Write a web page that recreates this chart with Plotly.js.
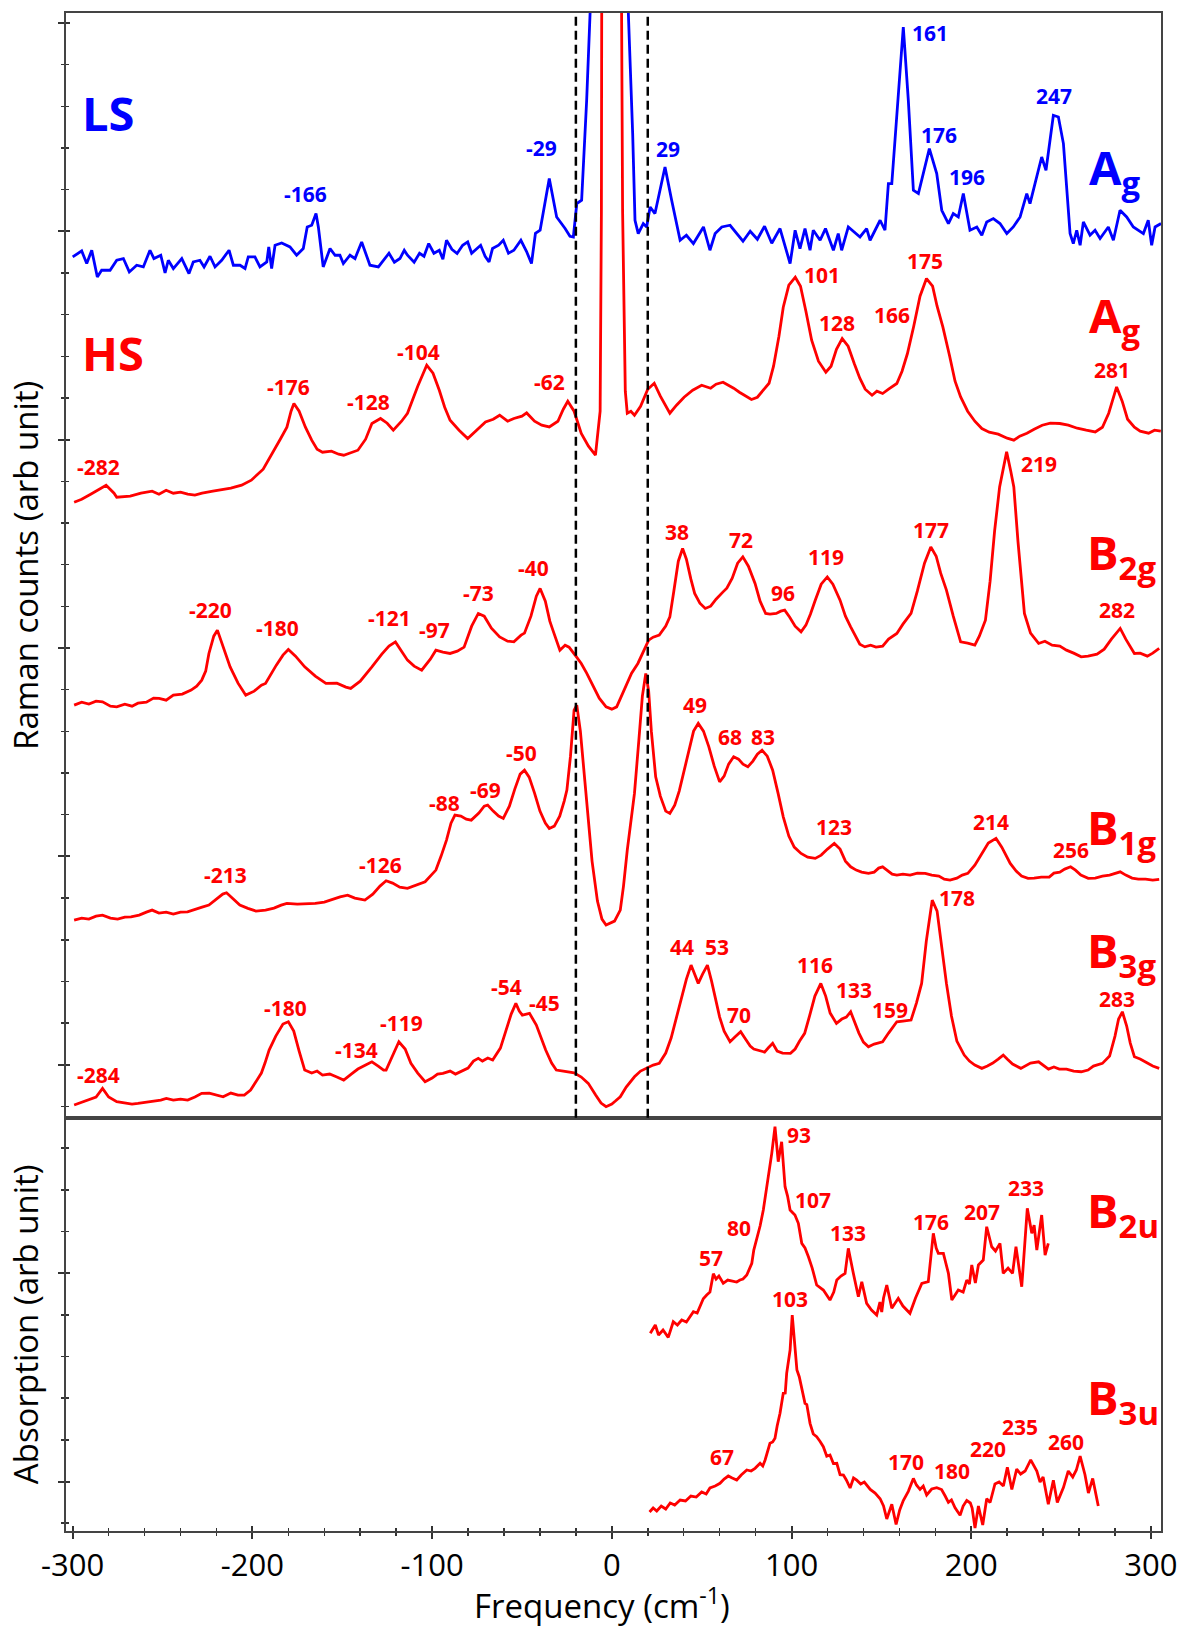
<!DOCTYPE html>
<html><head><meta charset="utf-8">
<script src="https://cdn.plot.ly/plotly-3.0.1.min.js"></script>
<style>html,body{margin:0;padding:0;background:#fff}#chart{width:1183px;height:1629px}</style>
</head><body><div id="chart"></div>
<script>
// ---- x tick labels ----
const freqTicks = [-300, -200, -100, 0, 100, 200, 300];
const freqTickText = ['-300', '-200', '-100', '0', '100', '200', '300'];

// ---- Raman spectra (frequency cm-1, counts in arb. units incl. vertical offset) ----
const ramanLS_Ag = [[-300,854.3],[-295,860.3],[-292.2,847.7],[-289.4,861],[-286.3,834.3],[-283.9,841],[-279.2,841],[-275.5,851],[-271.8,852.7],[-268.5,839.3],[-264.4,846],[-260.7,844.3],[-257,861],[-254.8,852.7],[-251,856],[-248.6,838.3],[-246.8,851],[-244,842.7],[-239.3,852.7],[-235.3,837.7],[-232.9,849.3],[-229.2,851],[-226.9,844.3],[-223.6,855],[-220.8,844.3],[-217.1,851],[-213,861],[-210.6,846],[-206.9,846],[-204.1,842.7],[-202.3,854.3],[-198.6,854.3],[-195.8,844.3],[-192,849.3],[-190.9,864.3],[-189.3,842.7],[-187.4,866],[-183.7,868.3],[-179.1,864.3],[-175.4,856],[-171.7,862.7],[-169.5,884.3],[-167,886],[-164.6,897.7],[-163.3,884.3],[-160.6,844.3],[-156.8,862.7],[-154,856],[-151.3,856],[-149.4,847.7],[-145.7,856],[-142.9,852.7],[-139.2,869.3],[-134.6,846],[-129.9,844.3],[-127.2,851],[-124,858],[-121,849],[-117.9,852.7],[-115.5,861],[-113.7,856],[-110,849],[-107,858],[-104.5,855],[-101.9,867.7],[-99,858],[-96,861],[-94,852],[-92,871],[-89,862],[-86.1,857.7],[-83,866],[-80.2,869.3],[-78,858],[-76.2,861],[-73,866],[-70.5,855],[-68.3,849.3],[-66.4,862.7],[-63,866],[-60.4,871],[-57.5,858],[-54.5,861],[-52.5,866],[-50.6,871],[-47.5,860],[-44.7,847.7],[-42.5,878],[-39.9,881],[-34.8,932.7],[-30.7,894.3],[-26,882.7],[-23.3,875],[-21.4,874.3],[-19.5,907.7],[-16.8,911],[-14,1011],[-12.1,1098],[-11,1250],[8.5,1250],[9.2,1098],[11.6,977.7],[12.9,891],[14.7,877.7],[17.5,887.7],[19.4,884.3],[21.3,904.3],[24,897.7],[29.6,944.3],[33.3,911],[35.5,893],[38,871],[41.5,876],[45.4,867.7],[51,884.3],[54.6,861],[57.5,877.7],[61.2,884.3],[65.8,886],[69.5,877.7],[73,870],[77,880],[81,872],[85,885],[89,868],[93.6,882.7],[99.2,847.7],[102,881],[104.7,862.7],[107.5,882.7],[110.3,861],[112.1,881],[115.9,871],[118.9,882.7],[123.3,861],[126,877.7],[127.9,861],[131.6,884.3],[138.1,874.3],[141.8,882.7],[143.7,871],[149.3,891],[152,881],[153.9,927.7],[155.8,927.7],[162.2,1084.3],[165,1011],[167.8,921],[170.6,917.7],[176.7,962.7],[180.8,937.7],[183.6,901],[187.3,887.7],[190,897.7],[192.8,894.3],[195.6,917.7],[199.3,881],[203.1,884.3],[205.9,876],[208.6,889.3],[212.3,892.7],[216,887.7],[219.8,877.7],[223.4,884.3],[227.2,894.3],[230.9,917.7],[232.7,907.7],[239.2,954.3],[241.6,941],[245.7,996],[248.5,994.3],[251.3,967.7],[255,877.7],[256.8,867.7],[258.7,881],[260.6,866],[262.4,889.3],[266.1,876],[268.9,881],[271.7,872.7],[276.3,884.3],[279.1,871],[282.8,901],[286.5,894.3],[290.2,884.3],[295.8,877.7],[298.5,891],[300.4,866],[302.3,884.3],[305.6,887.7]];

const ramanHS_Ag = [[-299.2,609],[-295,612],[-290,617],[-285,622],[-281.4,626],[-277,618],[-275.5,614],[-268,615],[-262,618],[-255.8,620],[-252,617],[-248,621],[-244,618],[-240,619],[-236,617],[-232,616],[-228,618],[-222,620],[-216,622],[-212,623],[-206,626],[-200.6,631],[-194,642],[-188.7,658],[-184.5,672],[-180.8,684],[-178.5,700],[-176.9,707.7],[-174,700],[-170.5,684],[-167,671],[-164,662],[-161,659],[-156,660],[-152,657],[-149.2,656],[-145,659],[-141.3,661],[-137,672],[-133.5,687.7],[-128.7,692.7],[-125,688],[-121.6,681],[-117,690],[-113.7,698],[-108,725],[-103,746],[-99.5,738],[-96,721],[-93,704],[-90,691],[-85,681],[-80.2,672.7],[-76,680],[-70.3,689.3],[-66,692],[-62.4,696],[-58,690],[-54.5,692.7],[-50,695],[-47.4,698.3],[-43,690],[-39,686],[-34.8,684.3],[-30,690],[-27,702],[-24.5,710],[-21,700],[-17,677.7],[-13,665],[-9.1,656],[-6.5,700],[-5.8,900],[-5.5,1250],[5,1250],[6,900],[7.5,720],[8.6,698],[10.6,700],[12.6,696],[16,705],[20,722],[23.6,728],[27,715],[32.3,698],[36,706],[40.2,714],[45,721],[50,726],[55,723],[58,727],[61.9,729],[65,726],[67.8,723],[71,719],[74,716],[77.7,711.7],[81,714],[84,720],[87.5,728],[90,745],[93,775],[95.4,804],[98.5,826],[102.1,834],[105,825],[108,800],[111.2,771],[115,750],[119.1,739],[122,745],[125,762],[128.2,772.7],[131.5,765],[134.9,747.7],[138,733],[141,722],[144.8,716],[147.5,720],[150.7,717.7],[154,722],[158.6,727.7],[161.5,740],[164.5,757.7],[168,785],[171.5,815],[175.1,832.7],[178.5,825],[181,805],[184.2,784.3],[188,755],[191,730],[194.1,714.3],[198,700],[202,690],[205.9,682.7],[210,679],[215,677],[220,673],[223.7,671],[227,675],[231,678],[235,682],[239.5,686],[244,688],[249.3,687.7],[254,686],[259,683],[264,681],[269,679.3],[273,684],[276.5,698],[280.9,724.3],[284,710],[287,692],[290.8,684],[294,680],[298.7,678],[302,681],[305.5,680]];

const ramanHS_B2g = [[-299.2,406],[-295,409],[-291,407],[-287,410],[-283.4,409.3],[-279,405],[-275.5,404.3],[-271,407],[-267,405],[-263.7,408],[-259,409],[-255,413],[-251.9,412.7],[-248,411],[-244,416],[-239,417],[-234.1,421],[-231,425],[-228.2,431],[-226,440],[-224.2,457.7],[-221.5,475],[-219.5,481],[-217,468],[-214.5,455],[-212.4,444.3],[-208,428],[-203.7,416],[-199,420],[-195,426],[-192.7,427.7],[-189.5,438],[-186.7,446],[-183,456],[-180,461.7],[-176,455],[-170.9,444.3],[-165,435],[-159.1,427.7],[-153,428],[-148,424],[-145.3,422.7],[-140,430],[-133.5,444.3],[-128,457],[-124,465],[-120.4,469.3],[-117,460],[-113.7,451],[-110,445],[-105.8,441],[-101,452],[-97.9,461],[-94,459],[-90,457.7],[-86,460],[-82.2,464],[-78,485],[-74.3,497.7],[-71,495],[-67,483],[-62.4,474.3],[-58,470],[-54.5,469.3],[-50.5,476],[-48.6,478],[-45,495],[-42,515],[-39.9,522.7],[-37,510],[-34.5,490],[-32.8,481],[-28.9,461],[-26,466],[-23.8,464],[-20,455],[-17,447.7],[-14,438],[-11.1,427.7],[-7,413],[-3.2,404.3],[0,402],[2.7,404.3],[5,414],[8.6,427.7],[11,438],[14.5,447.7],[17,458],[20.5,471],[23,474],[26.4,476],[30,485],[32.3,494.3],[34.5,520],[37,550],[39.4,562.7],[41.5,552],[44,532],[46.1,517.7],[49,508],[52,502.7],[55,505],[58,512],[61.9,519.3],[64,523],[67,533],[70,548],[72.9,554.3],[76,545],[79.7,527.7],[82.5,510],[85.6,497.7],[88,497],[91.5,497.7],[94,500],[96.2,501],[99,494],[102,485],[105.3,479.3],[108,486],[110.5,497],[113.2,511],[116.5,527],[119.9,534.3],[123,527],[127,511],[130,495],[132.9,484.3],[136,474],[138,467],[140.8,464.3],[144,466],[147,464],[150.7,465],[154,472],[158.6,477.7],[162,487],[166.5,497.7],[170,520],[174,548],[177.5,564.3],[180.5,555],[183,538],[186.2,521],[190,495],[194.1,469.3],[198,468],[202,466],[204.5,475],[207.9,491],[210.5,530],[213,580],[215.8,624.3],[219.7,659.3],[222,640],[223.7,624.3],[226,570],[229.6,497.7],[233,478],[237.5,467.7],[241,470],[245,466],[249.3,465],[253,461],[257,458],[261.2,454.3],[265,455],[270,457],[274,462],[278,472],[282.9,482.7],[286,472],[290.8,457.7],[294,458],[298,455],[301,458],[304.6,462.7]];

const ramanHS_B1g = [[-299.2,191],[-295,193],[-291,192],[-287,195],[-283.4,196],[-279,193],[-275,192],[-271,194],[-267.6,194.3],[-263,196],[-259,199],[-255.8,201],[-252,198],[-248,199],[-244,197],[-240,199],[-236.1,199.3],[-232,202],[-228,204],[-224.2,206],[-220,212],[-216.5,217],[-214.4,218.3],[-211,213],[-207,206],[-202.5,202.7],[-198,200],[-192.7,201],[-188,203],[-184,206],[-180.8,207.7],[-175,207],[-170,207],[-165,207.7],[-160,209],[-155,212],[-151.2,214.3],[-147,216],[-143,213],[-137.4,211],[-133,217],[-129,225],[-125.6,230.3],[-122,228],[-118,224],[-113.7,222.7],[-110,225],[-106,228],[-103.9,229.3],[-100.5,236],[-97.9,241],[-95,255],[-92,271],[-89.5,288],[-87.3,296],[-84,295],[-81,292],[-78.2,291],[-74,298],[-71,305],[-69.1,306],[-66,300],[-63,295],[-60.4,292.7],[-57,305],[-54,322],[-51,337],[-48.6,341],[-46,334],[-43,318],[-40,300],[-37,288],[-34.8,282.7],[-32,285],[-29,295],[-26.5,310],[-25,321],[-23,355],[-21,401],[-19.5,406],[-17.5,380],[-15,330],[-13.1,290],[-11,250],[-8,210],[-5.5,192],[-3.2,186],[-1,188],[1.5,190],[4.7,201],[6.5,225],[8.6,261],[10.5,290],[12.6,317.7],[15,370],[17,415],[18.9,437.7],[20.5,420],[22,380],[24.4,334.3],[27,315],[30,300],[32.3,297.7],[35,306],[37.5,320],[40.2,341],[43,362],[45.5,380],[48.1,387.7],[51,380],[54,364.3],[57,345],[60,329.3],[62.5,335],[65,347],[67.8,354.3],[70.5,352],[73,347],[75.7,344.3],[78.5,350],[81,357],[83.6,361],[86.5,355],[89.5,341],[92.5,318],[95.4,294.3],[98.5,275],[101.5,264],[105.3,257.7],[109,254],[113.2,252.7],[116.5,256],[120,262],[123.8,267.7],[127,262],[130,250],[132.9,244.3],[136,241],[139,239],[142.8,237.7],[146,239],[148.5,243],[150.7,244.3],[153,241],[156,237],[158.6,236],[162,237],[166,236],[170,238],[174.4,237.7],[178,236],[182,235],[185,232],[188.2,231],[192,233],[195,236],[198.1,237.7],[202,246],[205.9,257.7],[209.5,268],[213.8,272.7],[217,264],[221.7,247.7],[225,240],[228,235],[231.6,232.7],[235,233],[239,234],[243.4,234],[246,238],[249.3,239],[252,242],[255.3,244.3],[258,241],[261,236],[265.1,232.7],[269,233],[273,235],[277,236],[280,238],[282.9,239.3],[286,236],[289.5,233],[293,232],[297,232],[301,231],[304.6,231.7]];

const ramanHS_B3g = [[-299.2,6],[-295,9],[-291.3,11],[-287,14],[-283.4,22.7],[-280,14],[-275.5,9.3],[-271,8],[-267,7],[-263.7,7.7],[-259,9],[-255,10],[-251,11],[-247.9,12.7],[-244,11],[-240,12],[-236,11],[-232,14],[-228.2,17.7],[-224,18],[-220,16],[-216.3,14.3],[-212,18],[-208,16],[-204.5,16],[-201,21],[-198.6,27.7],[-195,38],[-193,48],[-190.7,61],[-187,75],[-183,87],[-180,89.3],[-177,80],[-174,60],[-170.9,41],[-167,38],[-164,40],[-161,36],[-157,37],[-153,34],[-149.2,31],[-145,37],[-141.3,42],[-137,46],[-133.5,49.3],[-130,45],[-127,41],[-125.6,41],[-122,55],[-118.5,69.3],[-115,62],[-111.8,47.7],[-108,38],[-103.9,29.3],[-100,33],[-97,37],[-94,37.7],[-90,40],[-87,37],[-84.1,39.3],[-80,43],[-77,50],[-74.3,52.7],[-72,50],[-69,53],[-66.3,51],[-62,63],[-59,80],[-56,97],[-53.4,107.7],[-51.5,100],[-49.8,96],[-45.8,97.7],[-42,86],[-39,72],[-36.8,61],[-33.5,48],[-30.9,41],[-27,40],[-24,39],[-21,38.3],[-17,34],[-13.1,27.7],[-9,16],[-6,8],[-3.2,4.3],[0,7],[2,10],[4.7,14.3],[8,24],[12.6,34.3],[16,40],[20.5,44.3],[23,46],[26.4,47.7],[30,58],[33,73],[36.2,94.3],[39,115],[41.5,132],[44.1,146],[46,138],[48.1,127.7],[50.5,137],[53.2,146],[55.5,130],[57.9,111],[60,94],[62.5,80],[65.8,69.3],[68.5,74],[71.7,79.3],[74,73],[77,65],[79,62],[81.6,61],[85,59],[87,63],[89.5,67.7],[92,60],[95,58],[99.4,57.7],[102,62],[104.5,70],[107.3,77.7],[110,95],[113,115],[116.3,127.7],[119,115],[121.5,98],[125,87.7],[128,92],[130.5,94],[132.9,99.3],[135,90],[137.5,78],[140,69],[142.8,64.3],[146,67],[150.7,69.3],[154,78],[158.6,89.3],[162,90],[166.5,91],[169.5,108],[172.4,127.7],[175,170],[178.3,211],[181,200],[183.5,165],[186.2,127.7],[189,95],[192,70],[196.1,56],[199,50],[202,46],[205.9,42.7],[209,45],[212,48],[215,52],[217.8,56],[220,52],[223,47],[227.6,42.7],[230,45],[233,48],[237.5,49.3],[240,46],[243,42],[246,44],[249,42],[253,42],[257,40],[261.2,39.3],[265,41],[268,45],[273,47.7],[277,55],[280,75],[282,92],[284.1,99.3],[286.5,85],[288.5,68],[290.8,54.3],[294,52],[298,48],[301,45],[304.6,42.7]];

// ---- absorption spectra ----
const absB2u = [[21.4,154.7],[24.2,163],[26,153],[28.5,158],[31.4,150.7],[34.2,166.3],[36.5,163],[38.9,168],[41.5,166],[43.5,172],[45.4,176.3],[47.5,175],[49.1,181],[50.9,189.3],[52.8,193],[54.6,196],[56.5,214.3],[58,209],[59.6,212],[62,204.7],[64.5,208],[67,207],[69.5,206],[71.3,208],[73,209],[75.1,213],[77.9,224.7],[79,238],[80.6,248],[82.5,262],[84.3,278],[86,298],[87.1,314.7],[89,334.7],[90.8,361.3],[92.6,326.3],[94.5,346.3],[96.4,301.3],[97.8,292],[99.2,278],[101.9,273],[103.8,264.7],[105.7,244.7],[107.5,240],[109.4,231.3],[111.5,220],[114,203],[117.7,198],[121.4,188],[123.5,196],[125.2,208],[127.5,212],[129.8,214.7],[131.6,239.7],[134.4,214.7],[137.2,191.3],[139.1,206.3],[141.8,184.7],[144.5,178],[147.4,173],[149.2,186],[150.2,176],[151.2,190],[153,203],[155.8,179.7],[157.5,185],[159.4,189.7],[162,182],[165.9,174.7],[169,190],[172.5,204.7],[176.1,206.3],[178.9,254.7],[180.5,240],[181.7,234.7],[184.5,234.7],[187.3,214.7],[189.2,188],[192.8,198],[195.5,196],[197.5,208],[199,204],[200.3,223],[202.3,205],[204,223],[206.7,228],[208.6,261.3],[211.4,241.3],[213.5,237],[216,244.7],[217.8,214.7],[220.5,220],[223,214.7],[224.9,241.3],[228.1,201.3],[231.2,279.7],[233.7,254.7],[235,263],[236.5,238],[239.2,273],[241.1,233],[242.9,244.7]];

const absB3u = [[21,-24],[23,-20],[25,-23],[27.5,-18],[30,-21],[32.5,-15],[35,-17],[38,-12],[41,-13],[44,-8],[47,-9],[50,-4],[52.5,-6],[54.6,0],[57.5,2],[60.2,4.7],[62.5,9],[64.8,12],[67,10],[69.5,8],[72,13],[75.1,18],[77.5,17],[79.7,19.7],[82.5,24.7],[84,22],[85.3,28],[87,38],[88,44.7],[89.5,46],[90.8,49.7],[92,62],[93.6,74.7],[95.4,94.7],[96.5,95],[97.3,114.7],[99.2,138],[100.4,173],[101.9,138],[103,118],[104.3,111.3],[106,96],[107.5,84.7],[108.5,83.5],[110.3,64.7],[112.1,54],[114,51.3],[115.9,46.6],[117.7,41.3],[119.6,31.8],[121.4,33],[123.3,24.4],[125.2,24.7],[127,13.3],[128.9,13],[130.5,8],[132.6,0],[134.5,10],[136.3,7.8],[138.5,4],[140.5,6],[143.8,-1.4],[146.5,-5],[149.3,-10.7],[151.2,-18],[153,-31],[155.8,-16.2],[158.2,-36.5],[160.2,-22],[162.2,-12.5],[165,-3.3],[167.8,9.6],[169.5,3],[171.5,-1.4],[173.3,2],[175.2,-7],[178,-1],[180.8,0.4],[183.5,-1.5],[185.5,-8],[187.3,-14.4],[189,-12],[191,-19.9],[193.8,-27.3],[195.5,-18],[197.5,-12.5],[199.5,-15],[200.5,-20],[202.1,-40],[204,-18],[206.4,-37],[208.6,-10.7],[210.5,-14.5],[213.2,4],[215.5,6],[217.9,2],[220.1,20.7],[222.6,-1.4],[225.3,18.9],[227.5,14],[230,17],[233.1,28.1],[236.5,17],[238.3,5.9],[240,11],[242.9,-16.2],[245.7,7.8],[247.9,-14.4],[251.3,0.4],[254,17],[256.5,11],[258.5,18],[260.6,31.8],[263.3,13.3],[265.2,-5.1],[267.6,9.6],[270.7,-18]];

// ---- peak label texts ----
const lsPeakText = ['-29', '29', '-166', '161', '176', '196', '247'];
const hsPeakText = ['101','175','128','166','281','-104','-176','-128','-62','-282','219','38','72','177','119','96','-40','-73','-220','-180','-121','-97','282','49','68','83','-50','-69','-88','123','214','256','-126','-213','178','44','53','116','133','-54','-45','-180','-119','159','70','283','-134','-284'];
const absPeakText = ['93','107','80','133','176','207','233','57','103','67','170','180','220','235','260'];

// ---- label placement (layout only) ----
const lsPeakPos = [[-39,963],[31.4,962.7],[-170.2,917.7],[177.1,1078.7],[182.3,976],[197.5,934.3],[246.1,1015]];
const hsPeakPos = [[116.8,836],[174.3,850],[125.2,788.3],[155.8,796],[278.2,741],[-107.8,759.3],[-180,724.3],[-135.4,709.3],[-34.7,729.3],[-285.4,644.3],[237.6,647.7],[36.3,579.3],[71.8,571],[177.6,581],[119.2,554.3],[95.5,517.7],[-43.4,542.7],[-74.2,517.7],[-223.4,501],[-185.9,482.7],[-123.5,492.7],[-98.7,481],[281,501],[46.2,406],[65.9,374.3],[84.4,374.3],[-50.5,357.7],[-70.3,321],[-93.2,307.7],[123.9,284.3],[211.1,289.3],[255.3,261],[-128.7,246],[-215.1,236],[192.2,212.7],[39.1,164.3],[58.8,164.3],[113.2,146],[135,121],[-58.4,124.3],[-37.5,107.7],[-181.6,102.7],[-116.9,87.7],[154.7,101],[71,96],[281,111.7],[-142.1,61],[-285.4,36]];
const absPeakPos = [[104.3,353],[112.1,288],[70.9,259.7],[131.6,255.3],[177.6,266.3],[205.8,276.3],[230.5,299.7],[55,229.7],[99.2,188.7],[61.2,31.3],[163.7,26.3],[189.1,17.3],[209.5,38.7],[227.2,61.3],[252.8,46.3]];

const BLUE = '#0000ff', RED = '#ff0000';
const FONT = 'Open Sans, Noto Sans, sans-serif';

function tr(pairs, color, xa, ya) {
  return {x: pairs.map(p => p[0]), y: pairs.map(p => p[1]), type: 'scatter', mode: 'lines',
    line: {color: color, width: 2.8}, xaxis: xa, yaxis: ya, showlegend: false, hoverinfo: 'skip'};
}
const data = [
  tr(ramanLS_Ag, BLUE, 'x2', 'y'),
  tr(ramanHS_Ag, RED, 'x2', 'y'),
  tr(ramanHS_B2g, RED, 'x2', 'y'),
  tr(ramanHS_B1g, RED, 'x2', 'y'),
  tr(ramanHS_B3g, RED, 'x2', 'y'),
  tr(absB2u, RED, 'x', 'y2'),
  tr(absB3u, RED, 'x', 'y2'),
  // empty traces so the inner-tick overlay axes are drawn
  {x: [], y: [], type: 'scatter', xaxis: 'x3', yaxis: 'y2', showlegend: false},
  {x: [], y: [], type: 'scatter', xaxis: 'x2', yaxis: 'y3', showlegend: false},
  {x: [], y: [], type: 'scatter', xaxis: 'x', yaxis: 'y4', showlegend: false}
];

const annotations = [];
function lab(text, pos, color, yref, size) {
  annotations.push({text: text, x: pos[0], y: pos[1], xref: 'x', yref: yref, showarrow: false,
    xanchor: 'center', yanchor: 'middle', font: {family: FONT, size: size || 21, color: color, weight: 700}});
}
lsPeakText.forEach((t, i) => lab(t, lsPeakPos[i], BLUE, 'y'));
hsPeakText.forEach((t, i) => lab(t, hsPeakPos[i], RED, 'y'));
absPeakText.forEach((t, i) => lab(t, absPeakPos[i], RED, 'y2'));

function big(text, x, y, color, yref) {
  annotations.push({text: text, x: x, y: y, xref: 'x', yref: yref, showarrow: false,
    xanchor: 'left', yanchor: 'middle', font: {family: FONT, size: 47, color: color, weight: 700}});
}
big('LS', -296, 998, BLUE, 'y');
big('HS', -296, 758, RED, 'y');
big('A<sub>g</sub>', 264.3, 941, BLUE, 'y');
big('A<sub>g</sub>', 264.3, 793, RED, 'y');
big('B<sub>2g</sub>', 263.2, 556, RED, 'y');
big('B<sub>1g</sub>', 263.2, 281, RED, 'y');
big('B<sub>3g</sub>', 263.2, 158, RED, 'y');
big('B<sub>2u</sub>', 263.3, 275, RED, 'y2');
big('B<sub>3u</sub>', 263.3, 88, RED, 'y2');

// x-axis title, placed as text under the axis
annotations.push({text: 'Frequency (cm<sup>-1</sup>)', xref: 'paper', yref: 'paper', x: 0.4895, y: -0.048,
  xanchor: 'center', yanchor: 'middle', showarrow: false, font: {family: FONT, size: 33, color: '#000'}});

const XR = [-303.73, 305.6];
const YTOP = [-6.6, 1098.3], YBOT = [-43, 370.4];
const axLine = {showline: true, linecolor: '#444', linewidth: 2, showgrid: false, zeroline: false};
const layout = {
  width: 1183, height: 1629,
  margin: {l: 66, r: 22, t: 13, b: 98},
  paper_bgcolor: '#fff', plot_bgcolor: '#fff',
  font: {family: FONT, color: '#000'},
  showlegend: false,
  xaxis: Object.assign({}, axLine, {
    domain: [0, 1], anchor: 'y2', range: XR, mirror: true,
    tickmode: 'array', tickvals: freqTicks, ticktext: freqTickText,
    ticks: 'outside', ticklen: 6, tickwidth: 2, tickcolor: '#333',
    minor: {tickmode: 'linear', tick0: 0, dtick: 20, ticks: 'outside', ticklen: 3, tickwidth: 1.5, tickcolor: '#333'},
    tickfont: {family: FONT, size: 31, color: '#000'},
    automargin: false
  }),
  xaxis2: Object.assign({}, axLine, {
    domain: [0, 1], anchor: 'y', matches: 'x', range: XR, mirror: true,
    ticks: '', showticklabels: false
  }),
  xaxis3: {overlaying: 'x', anchor: 'y2', range: XR, showline: false, showgrid: false, zeroline: false,
    showticklabels: false, tickmode: 'array', tickvals: freqTicks,
    ticks: 'inside', ticklen: 5, tickwidth: 2, tickcolor: '#333',
    minor: {tickmode: 'linear', tick0: 0, dtick: 20, ticks: 'inside', ticklen: 3, tickwidth: 1.5, tickcolor: '#333'}},
  yaxis: Object.assign({}, axLine, {
    domain: [0.2723, 1], anchor: 'x2', range: YTOP, mirror: true,
    tickmode: 'linear', tick0: 46.3, dtick: 208.4, showticklabels: false,
    ticks: 'outside', ticklen: 6, tickwidth: 2, tickcolor: '#333',
    minor: {tickmode: 'linear', tick0: 46.3, dtick: 41.68, ticks: 'outside', ticklen: 3, tickwidth: 1.5, tickcolor: '#333'},
    title: {text: 'Raman counts (arb unit)', font: {family: FONT, size: 33, color: '#000'}, standoff: 9},
    automargin: false
  }),
  yaxis3: {overlaying: 'y', anchor: 'x2', range: YTOP, showline: false, showgrid: false, zeroline: false,
    showticklabels: false, tickmode: 'linear', tick0: 46.3, dtick: 208.4,
    ticks: 'inside', ticklen: 4, tickwidth: 2, tickcolor: '#333',
    minor: {tickmode: 'linear', tick0: 46.3, dtick: 41.68, ticks: 'inside', ticklen: 3, tickwidth: 1.5, tickcolor: '#333'}},
  yaxis2: Object.assign({}, axLine, {
    domain: [0, 0.2723], anchor: 'x', range: YBOT, mirror: true,
    tickmode: 'linear', tick0: 6.5, dtick: 208.4, showticklabels: false,
    ticks: 'outside', ticklen: 6, tickwidth: 2, tickcolor: '#333',
    minor: {tickmode: 'linear', tick0: 6.5, dtick: 41.68, ticks: 'outside', ticklen: 3, tickwidth: 1.5, tickcolor: '#333'},
    title: {text: 'Absorption (arb unit)', font: {family: FONT, size: 33, color: '#000'}, standoff: 9},
    automargin: false
  }),
  yaxis4: {overlaying: 'y2', anchor: 'x', range: YBOT, showline: false, showgrid: false, zeroline: false,
    showticklabels: false, tickmode: 'linear', tick0: 6.5, dtick: 208.4,
    ticks: 'inside', ticklen: 4, tickwidth: 2, tickcolor: '#333',
    minor: {tickmode: 'linear', tick0: 6.5, dtick: 41.68, ticks: 'inside', ticklen: 3, tickwidth: 1.5, tickcolor: '#333'}},
  shapes: [-20, 20].map(v => ({type: 'line', xref: 'x2', yref: 'y domain', x0: v, x1: v, y0: 0, y1: 1,
    line: {color: '#000', width: 2.5, dash: '9px,5px'}})),
  annotations: annotations
};

Plotly.newPlot('chart', data, layout, {staticPlot: true, displayModeBar: false});
</script>
</body></html>
